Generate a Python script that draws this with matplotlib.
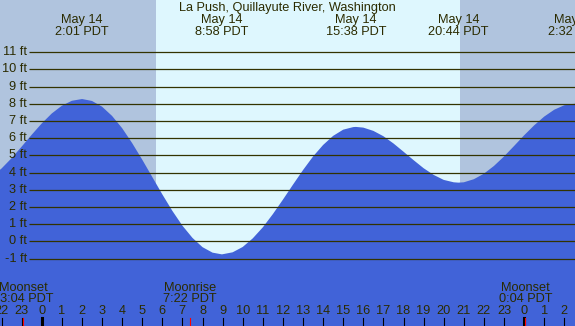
import matplotlib
matplotlib.use("Agg")
import matplotlib.pyplot as plt
import matplotlib.transforms as mtransforms

plt.rcParams['font.family'] = ['Liberation Sans', 'DejaVu Sans']

title = "La Push, Quillayute River, Washington"

# tide height (ft), hours from midnight May 14
hours = [-2.5, -2.0, -1.5, -1.0, -0.5, 0.0, 0.5, 1.0, 1.5, 2.0, 2.017,
         2.5, 3.0, 3.5, 4.0, 4.5, 5.0, 5.5, 6.0, 6.5, 7.0, 7.5, 8.0, 8.5, 8.967,
         9.5, 10.0, 10.5, 11.0, 11.5, 12.0, 12.5, 13.0, 13.5, 14.0, 14.5, 15.0, 15.5, 15.633,
         16.0, 16.5, 17.0, 17.5, 18.0, 18.5, 19.0, 19.5, 20.0, 20.5, 20.733,
         21.0, 21.5, 22.0, 22.5, 23.0, 23.5, 24.0, 24.5, 25.0, 25.5, 26.0, 26.533, 27.0]
heights = [3.75, 4.23, 4.83, 5.50, 6.19, 6.85, 7.43, 7.88, 8.17, 8.27, 8.27,
           8.16, 7.83, 7.29, 6.58, 5.71, 4.75, 3.74, 2.73, 1.77, 0.91, 0.20, -0.34, -0.66, -0.76,
           -0.64, -0.33, 0.17, 0.81, 1.58, 2.42, 3.29, 4.14, 4.93, 5.60, 6.13, 6.49, 6.64, 6.65,
           6.61, 6.42, 6.11, 5.69, 5.21, 4.72, 4.25, 3.86, 3.57, 3.43, 3.41,
           3.43, 3.61, 3.93, 4.38, 4.93, 5.54, 6.16, 6.74, 7.25, 7.65, 7.91, 8.00, 7.97]

# high / low tide labels
extreme_hours = [2.017, 8.967, 15.633, 20.733, 26.533]
extreme_dates = ["May 14", "May 14", "May 14", "May 14", "May 15"]
extreme_times = ["2:01 PDT", "8:58 PDT", "15:38 PDT", "20:44 PDT", "2:32 PDT"]

# moon events
moon_hours = [-0.933, 7.367, 24.067]
moon_names = ["Moonset", "Moonrise", "Moonset"]
moon_times = ["23:04 PDT", "7:22 PDT", "0:04 PDT"]

sunrise = 5.69
sunset = 20.81

feet = list(range(-1, 12))
hour_ticks = list(range(-2, 27))

night_col = "#B0C4DE"
day_col = "#DEF7FE"
water_col = "#4163D8"
ink = "#2B2B00"

W, H = 575, 326
fig = plt.figure(figsize=(W / 100, H / 100), dpi=100)
ax = fig.add_axes([0, 0, 1, 1])
x0 = -41.7 / 20.1
x1 = (W - 41.7) / 20.1
y_top = 241.3 / 17.2
y_bot = (241.3 - H) / 17.2
ax.set_xlim(x0, x1)
ax.set_ylim(y_bot, y_top)
ax.axis("off")

ax.axvspan(x0, sunrise, color=night_col, lw=0, zorder=0)
ax.axvspan(sunrise, sunset, color=day_col, lw=0, zorder=0)
ax.axvspan(sunset, x1, color=night_col, lw=0, zorder=0)

ax.fill_between(hours, heights, y_bot, color=water_col, lw=0, zorder=1)

grid_start = (29 - 41.7) / 20.1
ax.hlines(feet, grid_start, x1, color="#333300", lw=0.9, zorder=2)
for f in feet:
    ax.text(grid_start - 0.1, f, "%d ft" % f, ha="right", va="center",
            fontsize=9.2, color=ink, zorder=3)

trans = mtransforms.blended_transform_factory(ax.transData, ax.transAxes)


def ypos(px):
    return 1 - px / H


ax.text(0.5, ypos(7.5), title, transform=ax.transAxes, ha="center", va="center",
        fontsize=9.2, color=ink)
for h, d, t in zip(extreme_hours, extreme_dates, extreme_times):
    ax.text(h, ypos(20), d, transform=trans, ha="center", va="center",
            fontsize=9.2, color=ink)
    ax.text(h, ypos(32), t, transform=trans, ha="center", va="center",
            fontsize=9.2, color=ink)

for h, n, t in zip(moon_hours, moon_names, moon_times):
    ax.text(h, ypos(288), n, transform=trans, ha="center", va="center",
            fontsize=9.2, color=ink)
    ax.text(h, ypos(299.5), t, transform=trans, ha="center", va="center",
            fontsize=9.2, color=ink)

tick_len = 8 / H
for h in hour_ticks:
    ax.text(h, ypos(311), str(h % 24), transform=trans, ha="center", va="center",
            fontsize=9.2, color=ink)
    lw = 2.2 if h % 24 == 0 else 0.8
    ax.axvline(h, ymin=0, ymax=tick_len, color="black", lw=lw, zorder=4)
for h in moon_hours:
    ax.axvline(h, ymin=0, ymax=tick_len, color="red", lw=0.8, zorder=5)

fig.savefig("out.png", dpi=100)
